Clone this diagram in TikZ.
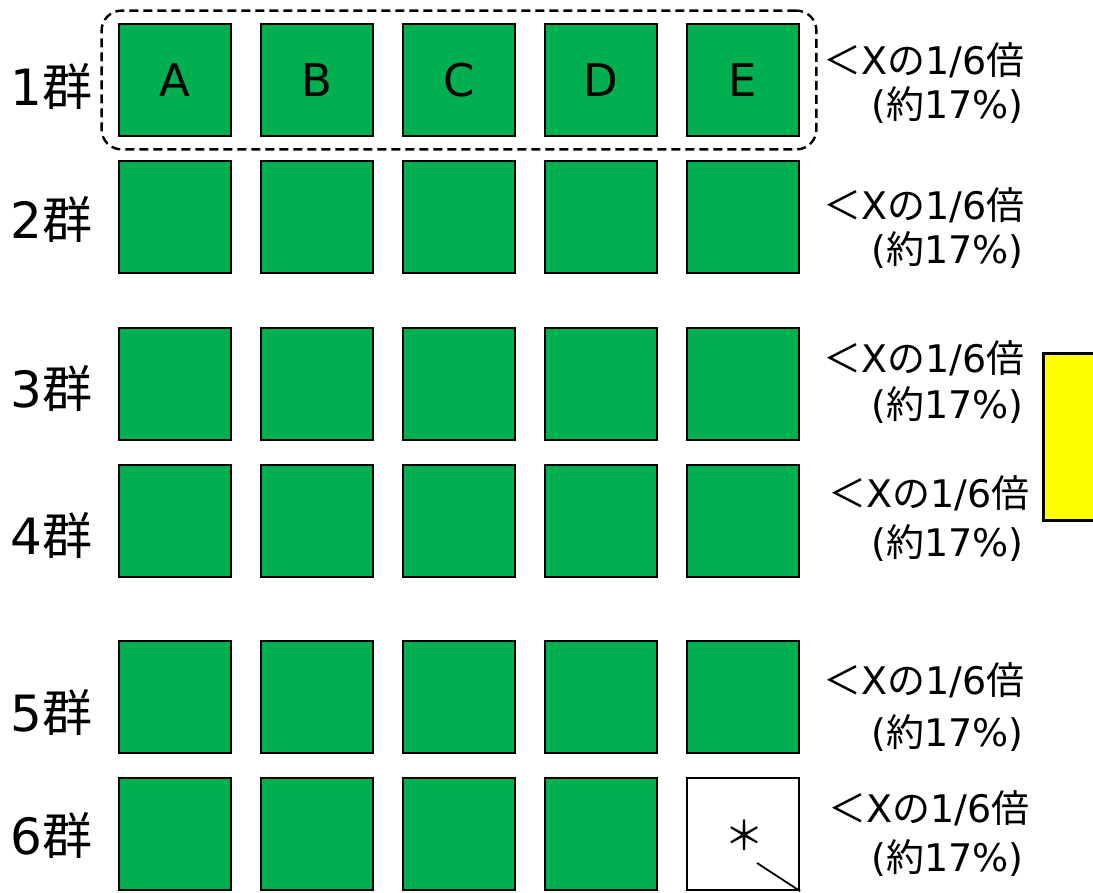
\documentclass[tikz,border=0pt]{standalone}
\usepackage{fontspec}
\setmainfont{DejaVu Sans}
\newfontfamily\jpfont{Noto Sans CJK JP}
\usepackage{tikz}
\usetikzlibrary{positioning, fit}
\definecolor{cellgreen}{RGB}{0,176,80}
\definecolor{baryellow}{RGB}{255,255,0}
\newcommand{\ja}[1]{{\jpfont #1}}
\newcommand{\ratioA}{\ja{＜}X\ja{の}1/6\ja{倍}}
\newcommand{\ratioB}{(\ja{約}17\%)}
\tikzstyle{cell} = [
  rectangle, draw=black, fill=cellgreen, line width=2.8pt,
  minimum size=112pt, inner sep=0pt,
  font=\fontsize{45}{54}\selectfont
]
\tikzstyle{emptycell} = [cell, fill=white, line width=2.2pt]
\tikzstyle{grplabel} = [anchor=east, inner sep=0pt, font=\fontsize{50}{60}\selectfont]
\tikzstyle{ratio} = [anchor=west, inner sep=0pt, font=\fontsize{38}{45}\selectfont]
\tikzstyle{grpframe} = [draw, line width=2.4pt, rounded corners=20pt,
  dash pattern=on 9pt off 5pt, inner xsep=16pt, inner ysep=12pt]

\begin{document}
\begin{tikzpicture}[x=1pt, y=-1pt]

  \path[use as bounding box, clip] (0,0) rectangle (1093,893);

  % first group with letters
  \foreach \c/\x in {A/175, B/317, C/459, D/601, E/743}
    \node[cell] (r1\c) at (\x, 80) {\c};
  \node[grpframe, fit=(r1A)(r1E)] (frame1) {};

  % groups 2 to 5
  \foreach \r/\y in {2/217, 3/384, 4/521, 5/697}
    \foreach \c/\x in {A/175, B/317, C/459, D/601, E/743}
      \node[cell] (r\r\c) at (\x, \y) {};

  % group 6, last cell left open
  \foreach \c/\x in {A/175, B/317, C/459, D/601}
    \node[cell] (r6\c) at (\x, 834) {};
  \node[emptycell] (r6E) at (743, 834) {};
  \node[font=\fontsize{40}{48}\selectfont\jpfont, inner sep=0pt] (star) at (744, 835) {＊};
  \coordinate (tick) at (757, 863);
  \draw[line width=1.8pt] (tick) -- (r6E.south east);

  % group names
  \foreach \r/\y in {1/87, 2/220, 3/388, 4/535, 5/712, 6/835}
    \node[grplabel] (grp\r) at (93, \y) {\r\ja{群}};

  % shares
  \foreach \r/\ya/\yb/\xa in {1/60/105/823, 2/205/250/823, 3/358/405/823,
                              4/493/543/828, 5/680/733/823, 6/808/858/828} {
    \node[ratio] (share\r-1) at (\xa, \ya) {\ratioA};
    \node[ratio] (share\r-2) at (871, \yb) {\ratioB};
  }

  \node[draw, fill=baryellow, line width=2.8pt, anchor=north west,
        minimum width=90pt, minimum height=167pt] (bar) at (1042, 352) {};

\end{tikzpicture}
\end{document}
